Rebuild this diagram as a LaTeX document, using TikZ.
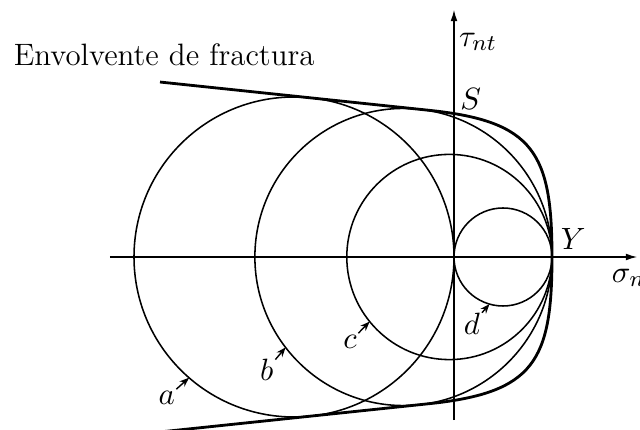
\documentclass[tikz,border=0pt]{standalone}
\usepackage{amsmath}
\usepackage{tikz}
\usetikzlibrary{arrows.meta,calc}

\begin{document}
\begin{tikzpicture}[
  axis/.style={line width=0.45pt,-{Latex[length=4pt,width=2.4pt]}},
  circ/.style={line width=0.55pt},
  envelope/.style={line width=1pt},
  ptr/.style={line width=0.5pt,-{Stealth[length=3.4pt,width=2.6pt]}},
  lbl/.style={inner sep=0.5pt,font=\fontsize{11}{13}\selectfont}]
  \useasboundingbox (-5.675,-2.1625) rectangle (2.325,3.2125);
  \coordinate (O) at (0,0);
  \coordinate (Y) at (1.225,0);
  \coordinate (ca) at (-2,0);
  \coordinate (cb) at (-0.632,0);
  \coordinate (cc) at (-0.0575,0);
  \coordinate (cd) at (0.6125,0);
  \coordinate (xs) at (-4.3,0);
  \coordinate (xe) at (2.29,0);
  \coordinate (ys) at (0,-2.04);
  \coordinate (ye) at (0,3.09);
  \draw[axis] (xs) -- (xe);
  \draw[axis] (ys) -- (ye);
  \draw[circ] (ca) circle (2);
  \draw[circ] (cb) circle (1.857);
  \draw[circ] (cc) circle (1.2825);
  \draw[circ] (cd) circle (0.6125);
  \draw[envelope] (-3.675,2.187) -- (-0.3,1.8325)
    .. controls (1.0,1.695) and (1.225,1.3) .. (Y)
    .. controls (1.225,-1.3) and (1.0,-1.695) .. (-0.3,-1.8325)
    -- (-3.675,-2.187);
  \node[lbl,anchor=base west,inner sep=0pt] (title) at (-5.51,2.3875) {Envolvente de fractura};
  \node[lbl] (tau) at (0.3,2.69) {$\tau_{nt}$};
  \node[lbl] (S) at (0.21,1.975) {$S$};
  \node[lbl] (Ylbl) at (1.49,0.225) {$Y$};
  \node[lbl,anchor=west] (sigma) at (1.95,-0.26) {$\sigma_{nt}$};
  \coordinate (pa) at ($(ca)+(229:2)$);
  \coordinate (pb) at ($(cb)+(217.5:1.857)$);
  \coordinate (pc) at ($(cc)+(219:1.2825)$);
  \coordinate (pd) at ($(cd)+(254:0.6125)$);
  \node[lbl] (la) at (-3.59,-1.76) {$a$};
  \node[lbl] (lb) at (-2.34,-1.41) {$b$};
  \node[lbl] (lc) at (-1.30,-1.06) {$c$};
  \node[lbl] (ld) at (0.225,-0.84) {$d$};
  \draw[ptr] (la) -- (pa);
  \draw[ptr] (lb) -- (pb);
  \draw[ptr] (lc) -- (pc);
  \draw[ptr] (ld) -- (pd);
\end{tikzpicture}
\end{document}
